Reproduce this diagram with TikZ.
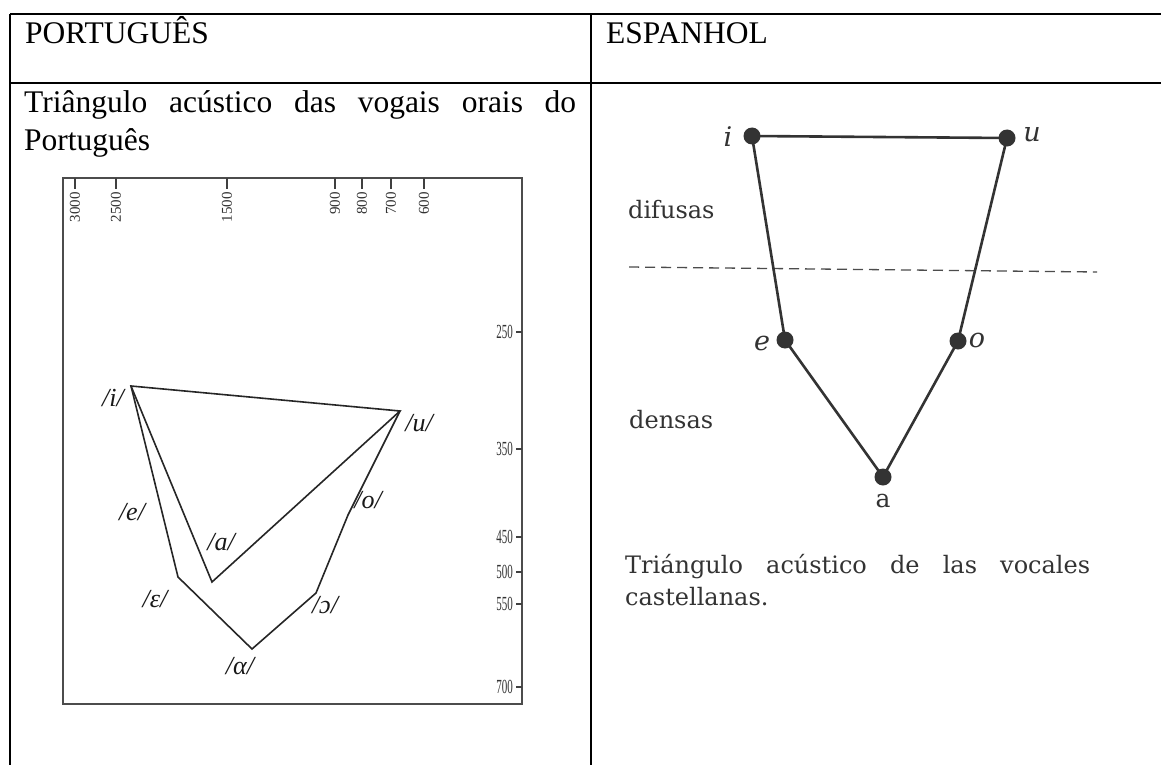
\documentclass[tikz,border=0pt]{standalone}
\usepackage{fontspec}
\usepackage{graphicx}
\setmainfont{Liberation Serif}
\newfontfamily\bookfont{DejaVu Serif}
\begin{document}
\begin{tikzpicture}[x=1pt,y=-1pt,
  tableline/.style={line width=2.4pt,black},
  frameline/.style={line width=1.2pt,black!70},
  vline/.style={line width=1.6pt,black!85,line join=miter},
  tickline/.style={line width=1.2pt,black!75},
  toplab/.style={rotate=90,anchor=east,inner sep=0pt,font=\fontsize{15}{15}\selectfont,text=black!80},
  rightlab/.style={anchor=east,inner sep=0pt,font=\fontsize{20}{20}\selectfont,text=black!80},
  ipa/.style={inner sep=0pt,font=\fontsize{26}{26}\selectfont\itshape,text=black!90},
  dotv/.style={circle,fill=black!80,inner sep=0pt,minimum size=17pt},
  spline/.style={line width=2.6pt,black!80},
  vlab/.style={inner sep=0pt,font=\bookfont\fontsize{27}{27}\selectfont\itshape,text=black!80},
  uplab/.style={inner sep=0pt,font=\bookfont\fontsize{25}{25}\selectfont,text=black!80},
  booktext/.style={inner sep=0pt,anchor=base west,font=\bookfont\fontsize{24}{28}\selectfont,text=black!80},
  maintext/.style={inner sep=0pt,anchor=base west,font=\fontsize{31.5}{37}\selectfont}
]
\useasboundingbox (0,0) rectangle (1161,765);
\fill[white] (0,0) rectangle (1161,765);

% table
\coordinate (tl) at (10,14);
\coordinate (tr) at (1161,14);
\coordinate (ml) at (10,83);
\coordinate (mr) at (1161,83);
\coordinate (bl) at (10,765);
\coordinate (dt) at (591,14);
\coordinate (db) at (591,765);
\draw[tableline] (tl) -- (tr);
\draw[tableline] (ml) -- (mr);
\draw[tableline] (tl) -- (bl);
\draw[tableline] (dt) -- (db);

% headers and left text
\node[maintext] (hpt) at (25,44) {PORTUGUÊS};
\node[maintext] (hes) at (606,44) {ESPANHOL};
\node[maintext] (pt1) at (24,113) {\makebox[552pt][s]{Triângulo acústico das vogais orais do}};
\node[maintext] (pt2) at (24,150) {Português};

% left chart frame
\coordinate (fa) at (63,178);
\coordinate (fb) at (522,704);
\draw[frameline] (fa) rectangle (fb);
\foreach \x/\l in {75/3000,116/2500,227/1500,335/900,362/800,391/700,424/600}{
  \coordinate (ta\l) at (\x,178);
  \coordinate (tb\l) at (\x,189);
  \draw[tickline] (ta\l) -- (tb\l);
  \node[toplab] (tl\l) at (\x,192) {\l};
}
\foreach \y/\l in {332/250,449/350,537/450,572/500,604/550,687/700}{
  \coordinate (ra\l) at (516,\y);
  \coordinate (rb\l) at (522,\y);
  \draw[tickline,line width=2pt] (ra\l) -- (rb\l);
  \node[rightlab] (rl\l) at (513,\y) {\scalebox{0.55}[1]{\l}};
}

% Portuguese vowels
\coordinate (vi) at (131,386);
\coordinate (vu) at (400,411);
\coordinate (vc) at (212,582);
\coordinate (veps) at (178,577);
\coordinate (valpha) at (252,649);
\coordinate (vopen) at (316,593);
\coordinate (vo) at (348,515);
\draw[vline] (vi) -- (vu) -- (vc) -- cycle;
\draw[vline] (vi) -- (veps) -- (valpha) -- (vopen) -- (vo) -- (vu);

\node[ipa] (li) at (113,398) {/i/};
\node[ipa] (lu) at (419,423) {/u/};
\node[ipa] (le) at (132,512) {/e/};
\node[ipa] (lc) at (221,542) {/a/};
\node[ipa] (lo) at (368,500) {/o/};
\node[ipa] (leps) at (155,599) {/ε/};
\node[ipa] (lopen) at (325,605) {/ɔ/};
\node[ipa] (lalpha) at (240,666) {/α/};

% Spanish triangle
\coordinate (pi) at (752,136);
\coordinate (pu) at (1007,138);
\coordinate (pe) at (785,340);
\coordinate (po) at (958,341);
\coordinate (pa) at (883,477);
\coordinate (dl) at (629,267);
\coordinate (dr) at (1097,272);
\draw[dash pattern=on 10pt off 6pt,line width=1.3pt,black!70] (dl) -- (dr);
\draw[spline,line join=round] (pi) -- (pu) -- (po) -- (pa) -- (pe) -- cycle;
\node[dotv] (si) at (pi) {};
\node[dotv] (su) at (pu) {};
\node[dotv] (se) at (pe) {};
\node[dotv] (so) at (po) {};
\node[dotv] (sa) at (pa) {};

\node[vlab] (lsi) at (728,137) {i};
\node[vlab] (lsu) at (1032,135) {u};
\node[vlab] (lse) at (762,343) {e};
\node[vlab] (lso) at (977,340) {o};
\node[uplab] (lsa) at (883,501) {a};

\node[booktext] (dif) at (628,218) {difusas};
\node[booktext] (den) at (629,428) {densas};
\node[booktext] (cap1) at (625,573) {\makebox[465pt][s]{Triángulo acústico de las vocales}};
\node[booktext] (cap2) at (625,605) {castellanas.};
\end{tikzpicture}
\end{document}
